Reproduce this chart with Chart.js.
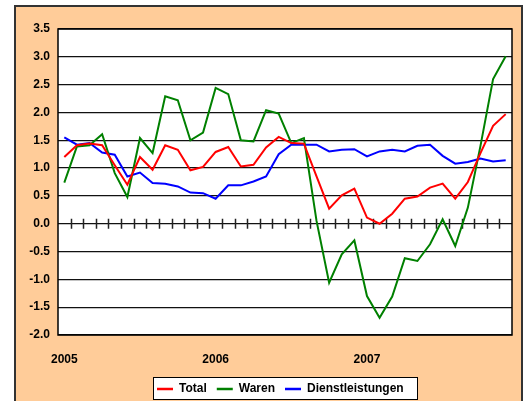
<!DOCTYPE html>
<html>
<head>
<meta charset="utf-8">
<script src="https://cdn.jsdelivr.net/npm/chart.js@4"></script>
<style>
  body { margin: 0; background: #fff; }
  canvas { display: block; }
</style>
</head>
<body>
<canvas id="teuerung" width="526" height="401"></canvas>
<script>
// Monatswerte 2005-2007
const months = [
  'Jan 05', 'Feb 05', 'Mär 05', 'Apr 05', 'Mai 05', 'Jun 05', 'Jul 05', 'Aug 05', 'Sep 05', 'Okt 05', 'Nov 05', 'Dez 05',
  'Jan 06', 'Feb 06', 'Mär 06', 'Apr 06', 'Mai 06', 'Jun 06', 'Jul 06', 'Aug 06', 'Sep 06', 'Okt 06', 'Nov 06', 'Dez 06',
  'Jan 07', 'Feb 07', 'Mär 07', 'Apr 07', 'Mai 07', 'Jun 07', 'Jul 07', 'Aug 07', 'Sep 07', 'Okt 07', 'Nov 07', 'Dez 07'
];
const yearLabels = ['2005', '2006', '2007'];

const total = [1.20, 1.41, 1.44, 1.41, 1.05, 0.70, 1.20, 0.97, 1.41, 1.33, 0.96, 1.02,
               1.29, 1.38, 1.03, 1.06, 1.37, 1.56, 1.45, 1.44, 0.85, 0.27, 0.51, 0.63,
               0.11, 0.00, 0.18, 0.45, 0.49, 0.65, 0.72, 0.45, 0.75, 1.27, 1.76, 1.97];
const waren = [0.74, 1.39, 1.41, 1.61, 0.91, 0.48, 1.54, 1.27, 2.29, 2.22, 1.50, 1.64,
               2.44, 2.33, 1.50, 1.48, 2.04, 1.98, 1.45, 1.54, 0.05, -1.06, -0.55, -0.30,
               -1.30, -1.69, -1.31, -0.62, -0.67, -0.37, 0.08, -0.40, 0.29, 1.40, 2.60, 3.01];
const dienstleistungen = [1.55, 1.42, 1.45, 1.28, 1.24, 0.85, 0.92, 0.73, 0.72, 0.67, 0.56, 0.55,
               0.45, 0.69, 0.69, 0.76, 0.85, 1.25, 1.42, 1.42, 1.42, 1.30, 1.33, 1.34,
               1.21, 1.30, 1.33, 1.30, 1.40, 1.42, 1.22, 1.08, 1.11, 1.17, 1.12, 1.14];

const FONT = 'Arial, "Liberation Sans", sans-serif';

document.addEventListener('DOMContentLoaded', () => {
  const canvas = document.getElementById('teuerung');
  const ctx = canvas.getContext('2d');

  // peach frame behind everything, white plot area
  const framePlugin = {
    id: 'frame',
    beforeDraw(chart) {
      const c = chart.ctx;
      const a = chart.chartArea;
      c.save();
      c.fillStyle = '#fff';
      c.fillRect(0, 0, chart.width, chart.height);
      c.fillStyle = '#ffcc99';
      c.fillRect(15, 6, 507, 405);
      c.strokeStyle = '#333';
      c.lineWidth = 2;
      c.strokeRect(15, 6, 507, 405);
      c.fillStyle = '#fff';
      c.fillRect(a.left, a.top, a.right - a.left, a.bottom - a.top);
      c.restore();
    }
  };

  // small tick marks across the zero line, between the months
  const zeroTicks = {
    id: 'zeroTicks',
    beforeDatasetsDraw(chart) {
      const x = chart.scales.x;
      const y0 = chart.scales.y.getPixelForValue(0);
      const c = chart.ctx;
      c.save();
      c.strokeStyle = '#222';
      c.lineWidth = 1.5;
      c.beginPath();
      for (let i = 1; i < months.length; i++) {
        const px = Math.round((x.getPixelForValue(i - 1) + x.getPixelForValue(i)) / 2) + 0.5;
        c.moveTo(px, y0 - 5);
        c.lineTo(px, y0 + 5);
      }
      c.stroke();
      c.restore();
    }
  };

  // plot border and the boxed legend underneath
  const borderLegend = {
    id: 'borderLegend',
    afterDraw(chart) {
      const c = chart.ctx;
      const a = chart.chartArea;
      c.save();
      c.strokeStyle = '#000';
      c.lineWidth = 1.5;
      c.strokeRect(a.left, a.top, a.right - a.left, a.bottom - a.top);

      c.fillStyle = '#fff';
      c.fillRect(153, 377, 264, 22);
      c.lineWidth = 1;
      c.strokeStyle = '#000';
      c.strokeRect(153.5, 377.5, 264, 22);

      c.font = 'bold 12px ' + FONT;
      c.textBaseline = 'middle';
      let lx = 157;
      const ly = 389;
      chart.data.datasets.forEach(ds => {
        c.strokeStyle = ds.borderColor;
        c.lineWidth = 2.5;
        c.beginPath();
        c.moveTo(lx, ly);
        c.lineTo(lx + 16, ly);
        c.stroke();
        c.fillStyle = '#000';
        c.fillText(ds.label, lx + 22, ly);
        lx += 22 + c.measureText(ds.label).width + 10;
      });
      c.restore();
    }
  };

  new Chart(ctx, {
    type: 'line',
    data: {
      labels: months,
      datasets: [
        { label: 'Total', data: total, borderColor: '#ff0000' },
        { label: 'Waren', data: waren, borderColor: '#008000' },
        { label: 'Dienstleistungen', data: dienstleistungen, borderColor: '#0000ff' }
      ]
    },
    options: {
      responsive: false,
      animation: false,
      layout: { padding: { left: 0, top: 29, right: 14, bottom: 0 } },
      elements: {
        line: { borderWidth: 2, tension: 0, fill: false },
        point: { radius: 0 }
      },
      plugins: {
        legend: { display: false },
        tooltip: { enabled: false }
      },
      scales: {
        x: {
          type: 'category',
          offset: true,
          grid: { display: false },
          border: { display: false },
          ticks: {
            autoSkip: false,
            maxRotation: 0,
            padding: 9,
            color: '#000',
            font: { family: FONT, size: 12, weight: 'bold' },
            callback: (v, i) => (i % 12 === 0 ? yearLabels[i / 12] : '')
          },
          afterFit: scale => { scale.height = 66; }
        },
        y: {
          min: -2,
          max: 3.5,
          grid: { color: '#111', lineWidth: 1.2, drawTicks: false },
          border: { display: false },
          ticks: {
            stepSize: 0.5,
            padding: 8,
            color: '#000',
            font: { family: FONT, size: 12, weight: 'bold' },
            callback: v => v.toFixed(1)
          },
          afterFit: scale => { scale.width = 58; }
        }
      }
    },
    plugins: [framePlugin, zeroTicks, borderLegend]
  });
});
</script>
</body>
</html>
